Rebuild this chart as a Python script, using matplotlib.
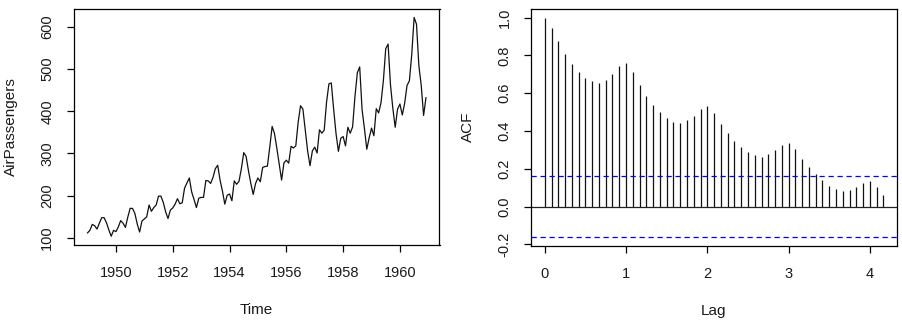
import numpy as np
import matplotlib
matplotlib.use("Agg")
import matplotlib.pyplot as plt

# ---- data ----
start_year = 1949
months_per_year = 12
passengers = [112,118,132,129,121,135,148,148,136,119,104,118,
              115,126,141,135,125,149,170,170,158,133,114,140,
              145,150,178,163,172,178,199,199,184,162,146,166,
              171,180,193,181,183,218,230,242,209,191,172,194,
              196,196,236,235,229,243,264,272,237,211,180,201,
              204,188,235,227,234,264,302,293,259,229,203,229,
              242,233,267,269,270,315,364,347,312,274,237,278,
              284,277,317,313,318,374,413,405,355,306,271,306,
              315,301,356,348,355,422,465,467,404,347,305,336,
              340,318,362,348,363,435,491,505,404,359,310,337,
              360,342,406,396,420,472,548,559,463,407,362,405,
              417,391,419,461,472,535,622,606,508,461,390,432]
acf_values = [1.000,0.948,0.876,0.807,0.753,0.714,0.682,0.663,0.656,
              0.671,0.703,0.743,0.760,0.713,0.646,0.586,0.538,0.500,
              0.469,0.450,0.442,0.457,0.482,0.517,0.532,0.494,0.438,
              0.388,0.348,0.315,0.288,0.271,0.264,0.277,0.299,0.326,
              0.337,0.303,0.254,0.211,0.172,0.138,0.111,0.091,0.082,
              0.089,0.104,0.124,0.133,0.104,0.062]
ci_bound = 0.163
left_xticks = [1950, 1952, 1954, 1956, 1958, 1960]
left_yticks = [100, 200, 300, 400, 500, 600]
right_xticks = [0, 1, 2, 3, 4]
right_yticks = [-0.2, 0.0, 0.2, 0.4, 0.6, 0.8, 1.0]

plt.rcParams['font.family'] = ['Liberation Sans', 'DejaVu Sans']
plt.rcParams['axes.unicode_minus'] = False

W, H = 903, 327
fig = plt.figure(figsize=(W/100, H/100), dpi=100)

def box(l, t, r, b):
    return [l/W, 1-b/H, (r-l)/W, (b-t)/H]

ax1 = fig.add_axes(box(74, 8.7, 439.5, 245))
ax2 = fig.add_axes(box(531.2, 8.9, 897, 246.1))

time = np.arange(len(passengers))/months_per_year + start_year
ax1.plot(time, passengers, color='#111111', lw=0.9)
t0, t1 = time[0], time[-1]
pad = (t1-t0)*0.04
ax1.set_xlim(t0-pad, t1+pad)
ymin, ymax = min(passengers), max(passengers)
pady = (ymax-ymin)*0.04
ax1.set_ylim(ymin-pady, ymax+pady)
ax1.set_xticks(left_xticks)
ax1.set_yticks(left_yticks)
ax1.set_xticklabels([str(v) for v in left_xticks])
ax1.set_yticklabels([str(v) for v in left_yticks])

lags = np.arange(len(acf_values))/months_per_year
ax2.vlines(lags, 0, acf_values, color='#111111', lw=0.9)
ax2.axhline(0, color='#222222', lw=0.9)
for yv in (ci_bound, -ci_bound):
    ax2.axhline(yv, color='#0000ff', lw=0.9, linestyle=(0, (4.2, 3.0)))
l0, l1 = lags[0], lags[-1]
padl = (l1-l0)*0.04
ax2.set_xlim(l0-padl, l1+padl)
lo = min(-ci_bound, min(acf_values)); hi = 1.0
padr = (hi-lo)*0.04
ax2.set_ylim(lo-padr, hi+padr)
ax2.set_xticks(right_xticks)
ax2.set_yticks(right_yticks)
ax2.set_xticklabels([str(v) for v in right_xticks])
ax2.set_yticklabels([f"{v:.1f}" for v in right_yticks])

for ax in (ax1, ax2):
    for s in ax.spines.values():
        s.set_linewidth(0.9)
        s.set_color('black')
    ax.tick_params(direction='out', length=5.2, width=0.9, colors='black',
                   labelsize=10.5, labelcolor='#1a1a1a')
    ax.tick_params(axis='x', pad=10)
    ax.tick_params(axis='y', pad=9, labelrotation=90)
    for lab in ax.get_yticklabels():
        lab.set_va('center')

fig.text(11/W, 1-127/H, 'AirPassengers', rotation=90, ha='center', va='center', fontsize=11, color='#1a1a1a')
fig.text(256/W, 1-310/H, 'Time', ha='center', va='center', fontsize=11, color='#1a1a1a')
fig.text(468/W, 1-127/H, 'ACF', rotation=90, ha='center', va='center', fontsize=11, color='#1a1a1a')
fig.text(714/W, 1-311/H, 'Lag', ha='center', va='center', fontsize=11, color='#1a1a1a')

fig.savefig("out.png", dpi=100)
